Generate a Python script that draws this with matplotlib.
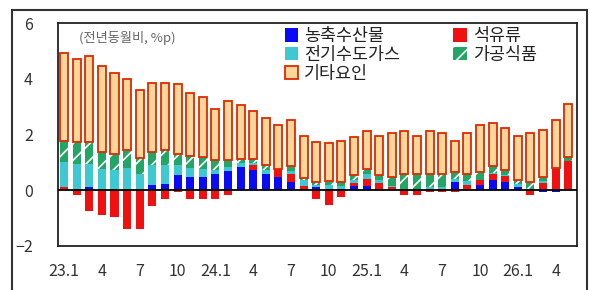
import matplotlib
matplotlib.use('Agg')
from matplotlib import pyplot as plt
from matplotlib.patches import Rectangle, Patch
import numpy as np

plt.rcParams['font.family'] = ['Noto Sans CJK KR', 'DejaVu Sans']
plt.rcParams['hatch.linewidth'] = 1.2

# 23.1 ~ 26.5 (월별, 전년동월비 기여도 %p)
months = ['23.1', '23.2', '23.3', '23.4', '23.5', '23.6', '23.7', '23.8', '23.9', '23.10', '23.11', '23.12',
          '24.1', '24.2', '24.3', '24.4', '24.5', '24.6', '24.7', '24.8', '24.9', '24.10', '24.11', '24.12',
          '25.1', '25.2', '25.3', '25.4', '25.5', '25.6', '25.7', '25.8', '25.9', '25.10', '25.11', '25.12',
          '26.1', '26.2', '26.3', '26.4', '26.5']

agri = [0, 0, 0.1, 0, 0, 0, 0, 0.18, 0.24, 0.54, 0.48, 0.48,
        0.57, 0.69, 0.84, 0.72, 0.6, 0.48, 0.3, 0.06, 0.1, 0.05, 0.05, 0.15,
        0.15, 0.05, 0, 0, 0, 0, 0.06, 0.28, 0, 0.18, 0.36, 0.3,
        0.12, 0, -0.08, -0.08, 0.05]
oil = [0.1, -0.18, -0.76, -0.9, -0.96, -1.41, -1.39, -0.58, -0.3, -0.08, -0.3, -0.3,
       -0.3, -0.16, 0, 0.2, 0, 0.28, 0.3, 0.1, -0.3, -0.54, -0.24, 0.1,
       0.25, 0.2, 0.1, -0.16, -0.16, -0.08, -0.08, -0.08, 0.18, 0.18, 0.24, 0.22,
       0, -0.18, 0.27, 0.75, 1.0]
utility = [0.92, 0.96, 0.86, 0.78, 0.72, 0.8, 0.57, 0.72, 0.66, 0.36, 0.33, 0.3,
           0.15, 0.15, 0.15, 0.05, 0.12, 0.02, 0.1, 0.2, 0.1, 0.15, 0.1, 0.1,
           0.2, 0.1, 0.05, 0.05, 0.05, 0.1, 0.04, 0.14, 0.15, 0, 0.02, 0.02,
           0.1, 0.06, 0.05, 0.02, 0]
food = [0.76, 0.79, 0.79, 0.61, 0.58, 0.65, 0.6, 0.49, 0.55, 0.4, 0.42, 0.42,
        0.36, 0.26, 0.15, 0.17, 0.18, 0, 0.18, 0.09, 0.1, 0.13, 0.15, 0.19,
        0.15, 0.19, 0.33, 0.55, 0.52, 0.5, 0.5, 0.22, 0.24, 0.3, 0.26, 0.18,
        0.14, 0.22, 0.16, 0.04, 0.15]
other = [3.16, 2.98, 3.07, 3.07, 2.92, 2.55, 2.44, 2.47, 2.41, 2.5, 2.26, 2.15,
         1.84, 2.12, 1.93, 1.72, 1.71, 1.55, 1.65, 1.5, 1.43, 1.36, 1.47, 1.36,
         1.38, 1.41, 1.57, 1.53, 1.39, 1.53, 1.45, 1.13, 1.48, 1.67, 1.53, 1.53,
         1.6, 1.77, 1.69, 1.72, 1.9]

tick_idx = list(range(0, len(months), 3))
tick_labels = ['23.1', '4', '7', '10', '24.1', '4', '7', '10', '25.1', '4', '7', '10', '26.1', '4']

series = [
    ('농축수산물', agri, dict(color='#0a0af5')),
    ('석유류', oil, dict(color='#f01010')),
    ('전기수도가스', utility, dict(color='#3ec8d2')),
    ('가공식품', food, dict(color='#23a565', hatch='//', edgecolor='white', linewidth=0)),
    ('기타요인', other, dict(color='#ffd699', edgecolor='#dd2a00', linewidth=1.3)),
]

fig = plt.figure(figsize=(5.9, 2.9), dpi=100)
ax = fig.add_axes([0.098, 0.152, 0.88, 0.768])

x = np.arange(len(months))
pos_bottom = np.zeros(len(months))
neg_bottom = np.zeros(len(months))
w = 0.64
for name, vals, style in series:
    v = np.array(vals, dtype=float)
    bottom = np.where(v >= 0, pos_bottom, neg_bottom)
    ax.bar(x, v, w, bottom=bottom, **style)
    pos_bottom += np.where(v >= 0, v, 0)
    neg_bottom += np.where(v < 0, v, 0)

ax.axhline(0, color='black', lw=1.3, zorder=5)
ax.set_xlim(-0.5, len(months) - 0.3)
ax.set_ylim(-2, 6)
ax.set_yticks([-2, 0, 2, 4, 6])
ax.set_xticks(tick_idx)
ax.set_xticklabels(tick_labels)
ax.tick_params(axis='y', length=0, pad=18, labelsize=11.5, labelcolor='#333333')
ax.tick_params(axis='x', length=0, pad=12, labelsize=11.5, labelcolor='#333333')
for s in ax.spines.values():
    s.set_color('#222222')
    s.set_linewidth(1.3)

ax.text(0.04, 0.965, '(전년동월비, %p)', transform=ax.transAxes, fontsize=9.5,
        color='#666666', va='top', ha='left')

handles = []
for name, vals, style in series:
    st = dict(style)
    if 'edgecolor' not in st:
        st['edgecolor'] = st['color']
        st['linewidth'] = 0
    handles.append(Patch(facecolor=st['color'], edgecolor=st['edgecolor'],
                         hatch=st.get('hatch'), linewidth=st.get('linewidth', 0), label=name))
order = [0, 2, 4, 1, 3]
leg = ax.legend([handles[i] for i in order], [series[i][0] for i in order],
                ncol=2, loc='upper left', bbox_to_anchor=(0.42, 1.022), frameon=False,
                fontsize=12.5, handlelength=0.8, handleheight=0.8, handletextpad=0.3,
                labelspacing=0.05, columnspacing=3.1, borderpad=0)
for t in leg.get_texts():
    t.set_color('#222222')
    t.set_fontweight('medium')

# 바깥 테두리
fig.patches.append(Rectangle((0.02, -0.1), 0.975, 1.066, transform=fig.transFigure,
                             fill=False, edgecolor='#333333', linewidth=1.5))

plt.savefig('out.png', dpi=100)
print('finish')
